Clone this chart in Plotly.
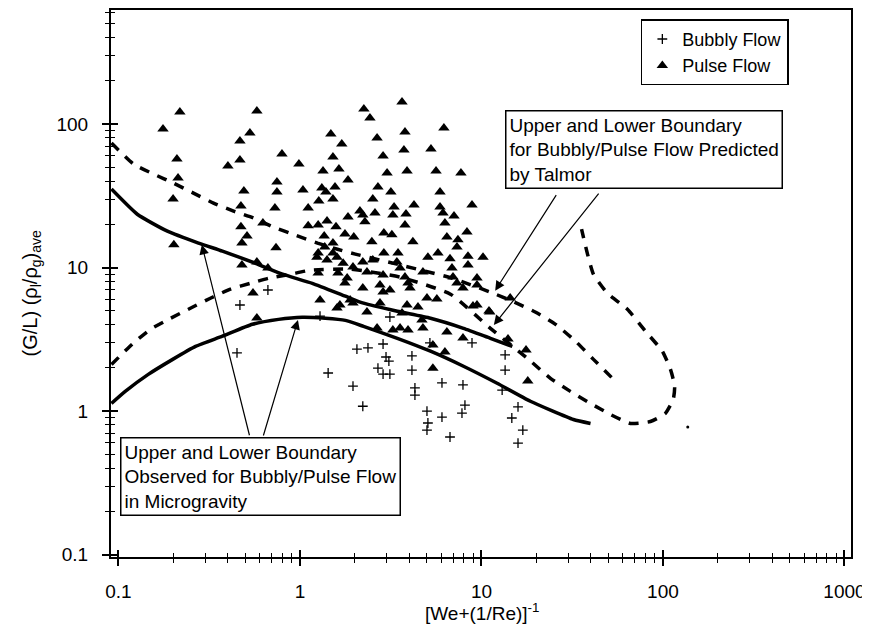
import math
import plotly.graph_objects as go

# ---------------- data ----------------
pulse_x = [0.176, 0.218, 0.210, 0.213, 0.200, 0.202,
           0.579, 0.530, 0.467, 0.467, 0.401, 0.796, 0.987, 0.747, 0.747, 0.491, 1.039, 0.473, 0.728,
           0.473, 0.625, 0.511, 0.479, 0.738, 0.479, 0.579, 0.666, 0.551, 0.579, 1.29, 1.60,
           2.25, 2.43, 1.48, 1.70, 2.66, 3.65, 3.79, 3.74, 1.52, 1.64, 1.34, 2.87, 3.02, 1.84,
           1.32, 1.39, 1.56, 2.69, 3.17, 2.52, 1.27, 1.52, 1.11, 2.14, 1.84, 2.59, 3.25, 3.30,
           2.22, 2.28, 1.26, 1.41, 1.58, 1.77, 1.98, 2.49, 2.90, 3.21, 1.11, 1.36, 1.37, 1.52,
           1.52, 1.24, 1.41, 1.60, 1.73, 1.96, 2.22, 2.52, 2.90, 3.47, 3.42, 1.26, 1.62, 1.82,
           2.34, 2.87, 1.26,
           6.21, 5.27, 5.62, 7.71, 3.89, 5.91, 4.25, 8.87, 5.91, 6.14, 3.84, 7.06, 3.79, 6.29,
           8.32, 6.45, 7.42, 4.19, 7.33, 5.07, 5.76, 8.43, 10.2, 6.71, 3.56, 3.79, 4.76, 6.88,
           8.43, 6.97, 9.45, 7.33, 7.91, 9.45, 3.94, 2.76, 14.4, 8.98, 11.0,
           1.77, 2.22, 2.87, 3.13, 4.04, 5.01, 5.68, 1.66, 1.89, 2.34, 2.76, 3.65, 3.89, 4.47,
           4.70, 4.76, 3.56, 3.94, 3.25, 2.66, 6.45, 7.91, 5.40, 6.29, 5.40, 9.45, 11.1, 14.0,
           17.6, 18.0, 1.96]
pulse_y = [92.3, 121, 57.0, 42.0, 30.0, 14.4,
           123, 86.5, 76.2, 56.1, 51.0, 61.8, 52.6, 39.4, 33.6, 34.1, 34.7, 26.8, 26.0,
           19.2, 20.4, 16.6, 14.8, 13.7, 10.4, 10.9, 9.92, 6.64, 4.45, 5.93, 5.22,
           127, 110, 85.2, 72.6, 79.9, 142, 87.9, 65.9, 58.9, 48.6, 47.0, 59.8, 45.6, 40.7,
           35.8, 33.6, 36.4, 36.4, 33.6, 30.0, 29.1, 30.0, 26.0, 24.8, 22.5, 24.0, 23.2, 26.4,
           23.2, 20.8, 19.8, 21.1, 19.2, 17.1, 16.3, 15.1, 17.4, 16.9, 19.5, 16.6, 13.9, 14.8,
           12.6, 11.8, 11.3, 11.8, 10.7, 10.1, 10.9, 11.3, 12.6, 12.6, 10.9, 9.16, 9.16, 8.45,
           9.30, 8.87, 12.6,
           93.8, 66.9, 47.0, 45.6, 47.0, 33.6, 27.3, 27.3, 26.4, 24.0, 23.6, 22.8, 19.8, 20.4,
           17.7, 16.3, 15.6, 15.1, 13.9, 11.8, 12.6, 12.0, 11.8, 11.5, 9.92, 8.59, 9.30, 9.92,
           10.4, 8.59, 8.45, 7.80, 7.20, 7.55, 7.80, 7.55, 6.13, 5.39, 4.98,
           7.80, 7.20, 6.75, 6.97, 7.20, 6.13, 6.03, 5.48, 5.93, 4.90, 5.66, 4.82, 5.48, 5.31,
           4.31, 3.79, 3.79, 3.67, 3.67, 3.79, 3.55, 3.23, 2.88, 2.58, 1.99, 5.48, 4.90, 3.18,
           2.66, 1.62, 5.66]

bubbly_x = [0.666, 0.467, 0.450, 1.43, 1.29, 2.06, 2.37, 2.87, 2.98, 3.09, 2.69, 2.87, 3.13,
            4.14, 4.14, 4.30, 4.30, 1.96, 2.22, 5.01, 5.07, 5.01, 3.13, 5.20, 6.06, 7.91, 8.11,
            7.81, 6.06, 6.71, 8.87, 13.5, 13.5, 13.0, 15.9, 14.7, 16.9, 15.9]
bubbly_y = [6.97, 5.48, 2.54, 1.84, 4.59, 2.70, 2.75, 2.93, 2.38, 2.23, 1.99, 1.81, 1.81,
            2.42, 1.93, 1.45, 1.29, 1.49, 1.08, 1.00, 0.825, 0.737, 4.52, 2.98, 1.57, 1.52, 1.10,
            0.968, 0.908, 0.659, 2.98, 2.46, 1.93, 1.40, 1.07, 0.894, 0.737, 0.598]

observed_upper_x = [0.0915, 0.127, 0.186, 0.276, 0.374, 0.569, 0.801, 1.17, 1.78, 2.24, 3.44,
                    5.24, 7.96, 11.2, 14.8]
observed_upper_y = [35.2, 23.5, 17.9, 14.8, 13.0, 10.7, 8.98, 7.76, 6.31, 5.64, 4.95,
                    4.43, 3.77, 3.21, 2.82]

observed_lower_x = [0.0915, 0.109, 0.146, 0.199, 0.266, 0.374, 0.547, 0.762, 1.03, 1.38, 1.78,
                    2.24, 3.44, 5.24, 7.96, 12.2, 18.6, 32.1, 39.9]
observed_lower_y = [1.13, 1.37, 1.80, 2.29, 2.82, 3.32, 4.02, 4.35, 4.50, 4.43, 4.28,
                    3.89, 3.21, 2.61, 2.05, 1.56, 1.17, 0.873, 0.819]

talmor_upper_x = [0.0915, 0.121, 0.156, 0.201, 0.259, 0.334, 0.431, 0.555, 0.715, 0.944, 1.25,
                  1.61, 2.02, 3.58, 6.92, 11.6, 14.8, 19.9, 25.6, 33.0, 41.4, 52.7]
talmor_upper_y = [73.6, 52.6, 44.8, 38.7, 33.0, 28.1, 24.7, 22.1, 19.1, 16.8, 14.8,
                  13.4, 12.4, 10.4, 8.41, 6.62, 5.82, 4.88, 4.02, 3.06, 2.29, 1.69]

talmor_lower_x = [0.0915, 0.119, 0.150, 0.194, 0.249, 0.321, 0.414, 0.533, 0.670, 0.887, 1.14,
                  1.90, 3.58, 6.75, 11.2, 17.9, 24.0, 30.9, 39.9, 51.4, 66.2, 85.3, 103, 114,
                  116, 110, 99.3, 80.2, 63.7, 49.4, 41.4, 38.4, 35.6]
talmor_lower_y = [2.11, 2.92, 3.71, 4.43, 5.20, 6.11, 7.06, 7.76, 8.41, 8.98, 9.57,
                  9.73, 8.55, 6.52, 3.77, 2.33, 1.69, 1.37, 1.13, 0.946, 0.819, 0.845, 0.962, 1.21,
                  1.49, 1.95, 2.61, 3.59, 5.12, 6.62, 8.98, 12.4, 18.5]

stray_x = [137]
stray_y = [0.774]

x_tick_vals = [0.1, 1, 10, 100, 1000]
x_tick_text = ["0.1", "1", "10", "100", "1000"]
y_tick_vals = [0.1, 1, 10, 100]
y_tick_text = ["0.1", "1", "10", "100"]

# ---------------- figure ----------------
FONT = "Arial, Liberation Sans, sans-serif"
x_range = [-1.041, 3.036]
y_range = [-1.017, 2.794]
minor_x = [m * 10.0 ** k for k in range(-2, 4) for m in range(2, 10)]
minor_y = [m * 10.0 ** k for k in range(-2, 3) for m in range(2, 10)]

fig = go.Figure()

curve_common = dict(mode="lines", showlegend=False, hoverinfo="skip", xaxis="x2", yaxis="y2")
fig.add_trace(go.Scatter(x=talmor_upper_x, y=talmor_upper_y,
                         line=dict(color="black", width=3.5, dash="10px,9px", shape="spline", smoothing=0.5),
                         **curve_common))
fig.add_trace(go.Scatter(x=talmor_lower_x, y=talmor_lower_y,
                         line=dict(color="black", width=3.5, dash="10px,9px", shape="spline", smoothing=0.5),
                         **curve_common))
fig.add_trace(go.Scatter(x=observed_upper_x, y=observed_upper_y,
                         line=dict(color="black", width=3.5, shape="spline", smoothing=0.5),
                         **curve_common))
fig.add_trace(go.Scatter(x=observed_lower_x, y=observed_lower_y,
                         line=dict(color="black", width=3.5, shape="spline", smoothing=0.5),
                         **curve_common))

fig.add_trace(go.Scatter(x=bubbly_x, y=bubbly_y, mode="markers", name="Bubbly Flow",
                         marker=dict(symbol="cross-thin", size=7, color="black",
                                     line=dict(color="black", width=1.3))))
fig.add_trace(go.Scatter(x=pulse_x, y=pulse_y, mode="markers", name="Pulse Flow",
                         marker=dict(symbol="triangle-up", size=10, color="black",
                                     line=dict(width=0))))
fig.add_trace(go.Scatter(x=stray_x, y=stray_y, mode="markers", showlegend=False,
                         marker=dict(symbol="circle", size=3, color="black")))

axis_common = dict(type="log", showgrid=False, zeroline=False, tickcolor="black", automargin=False)

# the page body adds an 8 px offset, so margins are shifted by 8 px
fig.update_layout(
    width=870, height=618,
    margin=dict(l=103, r=27, t=2, b=69),
    paper_bgcolor="white", plot_bgcolor="white",
    font=dict(family=FONT, size=19, color="black"),
    xaxis=dict(range=x_range, tickvals=x_tick_vals, ticktext=x_tick_text,
               ticks="outside", ticklen=7, tickwidth=1.5,
               minor=dict(tickvals=minor_x, ticks="outside", ticklen=4, tickwidth=1.2, tickcolor="black"),
               showline=True, linecolor="black", linewidth=2, mirror=True,
               tickfont=dict(size=19, family=FONT), ticklabelstandoff=9, **axis_common),
    yaxis=dict(range=y_range, tickvals=y_tick_vals, ticktext=y_tick_text,
               ticks="outside", ticklen=7, tickwidth=1.5,
               minor=dict(tickvals=minor_y, ticks="outside", ticklen=4, tickwidth=1.2, tickcolor="black"),
               showline=True, linecolor="black", linewidth=2, mirror=True,
               tickfont=dict(size=19, family=FONT), ticklabelstandoff=10, **axis_common),
    xaxis2=dict(range=x_range, overlaying="x", anchor="y", side="bottom",
                tickvals=x_tick_vals, showticklabels=False,
                ticks="inside", ticklen=7, tickwidth=1.5,
                minor=dict(tickvals=minor_x, ticks="inside", ticklen=4, tickwidth=1.2, tickcolor="black"),
                showline=False, **axis_common),
    yaxis2=dict(range=y_range, overlaying="y", anchor="x", side="left",
                tickvals=y_tick_vals, showticklabels=False,
                ticks="inside", ticklen=7, tickwidth=1.5,
                minor=dict(tickvals=minor_y, ticks="inside", ticklen=4, tickwidth=1.2, tickcolor="black"),
                showline=False, **axis_common),
    legend=dict(x=0.916, y=0.983, xanchor="right", yanchor="top",
                bordercolor="black", borderwidth=1.5, bgcolor="white",
                font=dict(size=18, family=FONT), tracegroupgap=0),
    showlegend=True,
)

annos = []
# axis titles
annos.append(dict(text="(G/L) (ρ<sub>l</sub>/ρ<sub>g</sub>)<sub>ave</sub>", textangle=-90,
                  xref="paper", yref="paper", x=-0.108, y=0.482,
                  xanchor="center", yanchor="middle", showarrow=False,
                  font=dict(size=20, family=FONT)))
annos.append(dict(text="[We+(1/Re)]<sup>-1</sup>",
                  xref="paper", yref="paper", x=0.501, y=-0.100,
                  xanchor="center", yanchor="middle", showarrow=False,
                  font=dict(size=19, family=FONT)))
# text boxes
annos.append(dict(text="Upper and Lower Boundary<br>for Bubbly/Pulse Flow Predicted<br>by Talmor",
                  xref="paper", yref="paper", x=0.532, y=0.817, xanchor="left", yanchor="top",
                  align="left", showarrow=False, bordercolor="black", borderwidth=1.5,
                  borderpad=3, bgcolor="white", font=dict(size=19, family=FONT)))
annos.append(dict(text="Upper and Lower Boundary<br>Observed for Bubbly/Pulse Flow<br>in Microgravity",
                  xref="paper", yref="paper", x=0.012, y=0.219, xanchor="left", yanchor="top",
                  align="left", showarrow=False, bordercolor="black", borderwidth=1.5,
                  borderpad=3, bgcolor="white", font=dict(size=19, family=FONT)))
# arrows (tip in data units, tail offset in pixels)
arrow_tips = [(11.9, 6.9, 62, -97), (11.7, 3.97, 106, -133),
              (0.288, 14.4, 48, 192), (0.975, 4.31, -35, 117)]
for tx, ty, ax, ay in arrow_tips:
    annos.append(dict(x=math.log10(tx), y=math.log10(ty), xref="x", yref="y",
                      ax=ax, ay=ay, axref="pixel", ayref="pixel", text="",
                      showarrow=True, arrowhead=2, arrowsize=1.6, arrowwidth=1.2,
                      arrowcolor="black", standoff=0))
fig.update_layout(annotations=annos)

fig.write_html("out.html")
